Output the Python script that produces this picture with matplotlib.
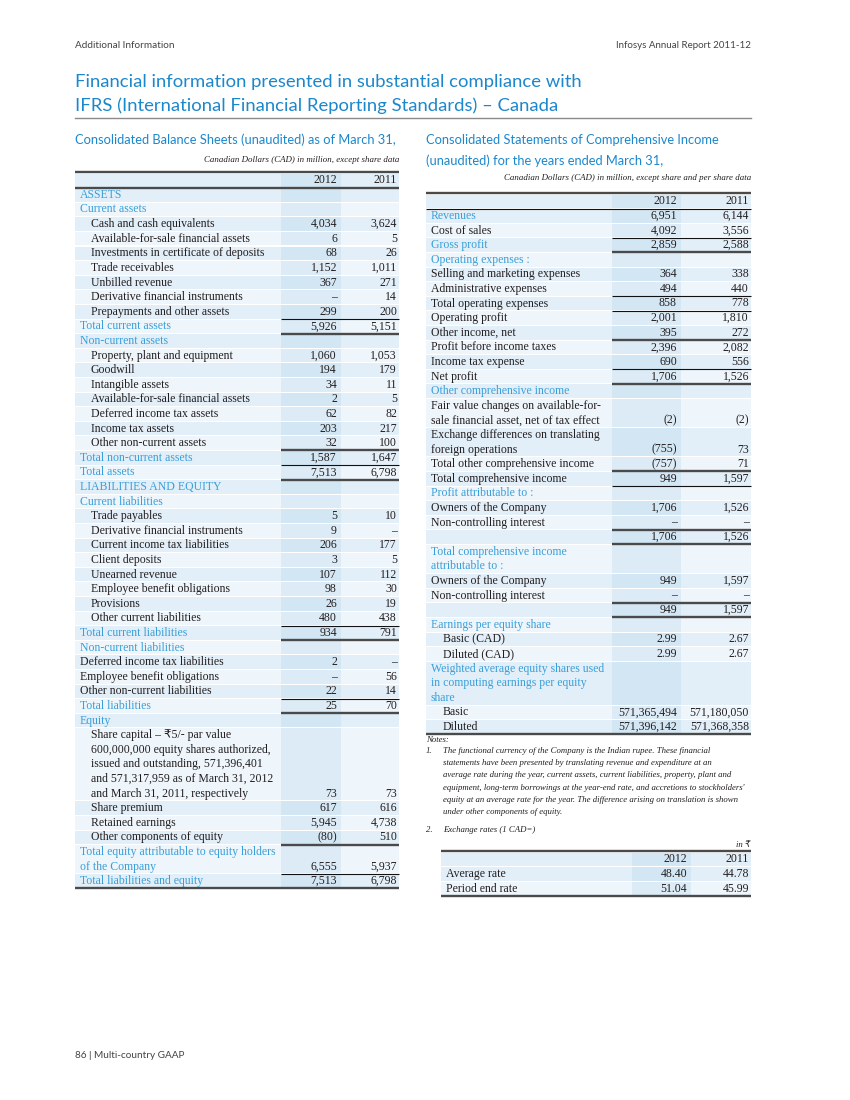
import matplotlib
matplotlib.use("Agg")
import matplotlib.pyplot as plt
from matplotlib.patches import Rectangle

plt.rcParams['font.family'] = ['Liberation Serif', 'DejaVu Sans']

SANS = ['Lato', 'DejaVu Sans']
TITLE_BLUE = '#1b87cc'
HEAD_BLUE = '#3a9fd9'
TXT = '#231f20'

# ---- balance sheet data ----
bs_labels = [
    "ASSETS", "Current assets",
    "Cash and cash equivalents", "Available-for-sale financial assets",
    "Investments in certificate of deposits", "Trade receivables", "Unbilled revenue",
    "Derivative financial instruments", "Prepayments and other assets",
    "Total current assets", "Non-current assets",
    "Property, plant and equipment", "Goodwill", "Intangible assets",
    "Available-for-sale financial assets", "Deferred income tax assets",
    "Income tax assets", "Other non-current assets",
    "Total non-current assets", "Total assets",
    "LIABILITIES AND EQUITY", "Current liabilities",
    "Trade payables", "Derivative financial instruments", "Current income tax liabilities",
    "Client deposits", "Unearned revenue", "Employee benefit obligations", "Provisions",
    "Other current liabilities", "Total current liabilities", "Non-current liabilities",
    "Deferred income tax liabilities", "Employee benefit obligations",
    "Other non-current liabilities", "Total liabilities", "Equity",
    "Share capital \u2013 \u20b95/- par value\n600,000,000 equity shares authorized,\n"
    "issued and outstanding, 571,396,401\nand 571,317,959 as of March 31, 2012\n"
    "and March 31, 2011, respectively",
    "Share premium", "Retained earnings", "Other components of equity",
    "Total equity attributable to equity holders\nof the Company",
    "Total liabilities and equity",
]
bs_2012 = ["", "", "4,034", "6", "68", "1,152", "367", "\u2013", "299", "5,926", "",
           "1,060", "194", "34", "2", "62", "203", "32", "1,587", "7,513", "", "",
           "5", "9", "206", "3", "107", "98", "26", "480", "934", "",
           "2", "\u2013", "22", "25", "", "73", "617", "5,945", "(80)", "6,555", "7,513"]
bs_2011 = ["", "", "3,624", "5", "26", "1,011", "271", "14", "200", "5,151", "",
           "1,053", "179", "11", "5", "82", "217", "100", "1,647", "6,798", "", "",
           "10", "\u2013", "177", "5", "112", "30", "19", "438", "791", "",
           "\u2013", "56", "14", "70", "", "73", "616", "4,738", "510", "5,937", "6,798"]
bs_heads = [0, 1, 9, 10, 18, 19, 20, 21, 30, 31, 35, 36, 41, 42]
bs_flush = [32, 33, 34]
bs_rules = {9: ('thin', 'thick'), 18: ('thick', 'thin'), 19: (None, 'thick'),
            30: ('thin', 'thick'), 35: ('thin', 'thick'), 41: ('thick', 'thin')}

# ---- comprehensive income data ----
ci_labels = [
    "Revenues", "Cost of sales", "Gross profit", "Operating expenses :",
    "Selling and marketing expenses", "Administrative expenses",
    "Total operating expenses", "Operating profit", "Other income, net",
    "Profit before income taxes", "Income tax expense", "Net profit",
    "Other comprehensive income",
    "Fair value changes on available-for-\nsale financial asset, net of tax effect",
    "Exchange differences on translating\nforeign operations",
    "Total other comprehensive income", "Total comprehensive income",
    "Profit attributable to :", "Owners of the Company", "Non-controlling interest", "",
    "Total comprehensive income\nattributable to :", "Owners of the Company",
    "Non-controlling interest", "", "Earnings per equity share",
    "Basic (CAD)", "Diluted (CAD)",
    "Weighted average equity shares used\nin computing earnings per equity\nshare",
    "Basic", "Diluted",
]
ci_2012 = ["6,951", "4,092", "2,859", "", "364", "494", "858", "2,001", "395", "2,396",
           "690", "1,706", "", "(2)", "(755)", "(757)", "949", "", "1,706", "\u2013",
           "1,706", "", "949", "\u2013", "949", "", "2.99", "2.99", "",
           "571,365,494", "571,396,142"]
ci_2011 = ["6,144", "3,556", "2,588", "", "338", "440", "778", "1,810", "272", "2,082",
           "556", "1,526", "", "(2)", "73", "71", "1,597", "", "1,526", "\u2013",
           "1,526", "", "1,597", "\u2013", "1,597", "", "2.67", "2.67", "",
           "571,180,050", "571,368,358"]
ci_heads = [0, 2, 3, 12, 17, 21, 25, 28]
ci_indent = [26, 27, 29, 30]
ci_rules = {2: ('thin', 'thick'), 6: ('thin', 'thin'), 8: (None, 'thick'),
            10: (None, 'thin'), 11: (None, 'thick'), 15: (None, 'thick'),
            16: (None, 'thin'), 19: (None, 'thick'), 20: (None, 'thick'),
            23: (None, 'thick'), 24: (None, 'thick')}

# ---- exchange rates ----
fx_labels = ["Average rate", "Period end rate"]
fx_2012 = ["48.40", "51.04"]
fx_2011 = ["44.78", "45.99"]

note1 = ["The functional currency of the Company is the Indian rupee. These financial",
         "statements have been presented by translating revenue and expenditure at an",
         "average rate during the year, current assets, current liabilities, property, plant and",
         "equipment, long-term borrowings at the year-end rate, and accretions to stockholders'",
         "equity at an average rate for the year. The difference arising on translation is shown",
         "under other components of equity."]

PITCH = 14.6
BAND_A = ('#e3eff8', '#d3e6f3')
BAND_B = ('#eef5fb', '#dcebf5')
BODY = 8.5
SMALL = 6.3


def rule(ax, y, xa, xb, kind):
    if kind == 'thin':
        ax.plot([xa, xb], [y, y], color='#111111', lw=0.8, solid_capstyle='butt')
    else:
        ax.plot([xa, xb], [y, y], color='#4a4a4a', lw=1.7, solid_capstyle='butt')


def draw_table(ax, x0, x1, c1, c2, y_top, labels, v12, v11, heads=(), flush=(),
               indent=(), rules=None, base_ind=5, sub_ind=16, head_rule='thick'):
    rules = rules or {}
    # header row
    y = y_top + PITCH / 2 + 1
    ax.add_patch(Rectangle((x0, y - PITCH / 2 + 0.5), c1 - x0, PITCH - 1, color=BAND_A[0], lw=0))
    ax.add_patch(Rectangle((c1, y - PITCH / 2 + 0.5), c2 - c1, PITCH - 1, color=BAND_A[1], lw=0))
    ax.add_patch(Rectangle((c2, y - PITCH / 2 + 0.5), x1 - c2, PITCH - 1, color=BAND_A[0], lw=0))
    ax.text(c2 - 4, y, "2012", ha='right', va='center', fontsize=BODY, color=TXT)
    ax.text(x1 - 2, y, "2011", ha='right', va='center', fontsize=BODY, color=TXT)
    rule(ax, y_top, x0, x1, 'thick')
    if head_rule:
        rule(ax, y + PITCH / 2, x0, x1, head_rule)
    y0 = y + PITCH
    for i, lab in enumerate(labels):
        lines = lab.split("\n")
        n = len(lines)
        top = y0 - PITCH / 2
        bot = top + n * PITCH
        band = BAND_A if i % 2 == 0 else BAND_B
        ax.add_patch(Rectangle((x0, top + 0.5), c1 - x0, bot - top - 1, color=band[0], lw=0))
        ax.add_patch(Rectangle((c1, top + 0.5), c2 - c1, bot - top - 1, color=band[1], lw=0))
        ax.add_patch(Rectangle((c2, top + 0.5), x1 - c2, bot - top - 1, color=band[0], lw=0))
        if i in heads:
            xi, col = x0 + base_ind, HEAD_BLUE
        elif i in flush:
            xi, col = x0 + base_ind, TXT
        elif i in indent:
            xi, col = x0 + sub_ind, TXT
        else:
            xi, col = x0 + (sub_ind if sub_ind > base_ind and not indent else base_ind), TXT
        for k, ln in enumerate(lines):
            ax.text(xi, y0 + k * PITCH, ln, ha='left', va='center', fontsize=BODY, color=col)
        yl = y0 + (n - 1) * PITCH
        ax.text(c2 - 4, yl, v12[i], ha='right', va='center', fontsize=BODY, color=TXT)
        ax.text(x1 - 2, yl, v11[i], ha='right', va='center', fontsize=BODY, color=TXT)
        above, below = rules.get(i, (None, None))
        if above:
            rule(ax, top, c1, x1, above)
        if below:
            rule(ax, bot, c1, x1, below)
        y0 += n * PITCH
    rule(ax, y0 - PITCH / 2, x0, x1, 'thick')


fig = plt.figure(figsize=(8.5, 11), dpi=100)
ax = fig.add_axes([0, 0, 1, 1])
ax.set_xlim(0, 850)
ax.set_ylim(1100, 0)
ax.axis('off')

# page header
ax.text(75, 46, "Additional Information", fontsize=7.2, family=SANS, color='#444444', va='center')
ax.text(751, 46, "Infosys Annual Report 2011-12", fontsize=7.0, family=SANS, color='#444444',
        va='center', ha='right')
ax.text(75, 82, "Financial information presented in substantial compliance with",
        fontsize=13.3, family=SANS, color=TITLE_BLUE, va='center')
ax.text(75, 106, "IFRS (International Financial Reporting Standards) \u2013 Canada",
        fontsize=13.3, family=SANS, color=TITLE_BLUE, va='center')
ax.plot([75, 751], [118, 118], color='#8a8a8a', lw=1)

# balance sheet
ax.text(75, 140, "Consolidated Balance Sheets (unaudited) as of March 31,", fontsize=9.3,
        family=SANS, color=TITLE_BLUE, va='center')
ax.text(399, 160, "Canadian Dollars (CAD) in million, except share data", fontsize=6.4,
        style='italic', color=TXT, va='center', ha='right')
draw_table(ax, 75, 399, 281, 341, 172, bs_labels, bs_2012, bs_2011, heads=bs_heads,
           flush=bs_flush, rules=bs_rules, base_ind=5, sub_ind=16)

# comprehensive income
ax.text(426, 140, "Consolidated Statements of Comprehensive Income", fontsize=9.3,
        family=SANS, color=TITLE_BLUE, va='center')
ax.text(426, 161, "(unaudited) for the years ended March 31,", fontsize=9.3,
        family=SANS, color=TITLE_BLUE, va='center')
ax.text(751, 178, "Canadian Dollars (CAD) in million, except share and per share data",
        fontsize=6.4, style='italic', color=TXT, va='center', ha='right')
draw_table(ax, 426, 751, 612, 681, 193, ci_labels, ci_2012, ci_2011, heads=ci_heads,
           indent=ci_indent, rules=ci_rules, base_ind=5, sub_ind=17, head_rule='thin')

# notes
ax.text(426, 740, "Notes:", fontsize=SMALL, style='italic', color=TXT, va='center')
ax.text(426, 751, "1.", fontsize=SMALL, style='italic', color=TXT, va='center')
for k, ln in enumerate(note1):
    ax.text(443, 751 + k * 12.2, ln, fontsize=SMALL, style='italic', color=TXT, va='center')
ax.text(426, 830, "2.", fontsize=SMALL, style='italic', color=TXT, va='center')
ax.text(443, 830, "Exchange rates (1 CAD=)", fontsize=SMALL, style='italic', color=TXT, va='center')
ax.text(751, 845, "in \u20b9", fontsize=SMALL, style='italic', color=TXT, va='center', ha='right')
draw_table(ax, 441, 751, 632, 691, 851, fx_labels, fx_2012, fx_2011, base_ind=5, sub_ind=5,
           head_rule=None)

# footer
ax.text(75, 1055, "86 | Multi-country GAAP", fontsize=7.2, family=SANS, color='#444444',
        va='center')

fig.savefig("out.png", dpi=100)
